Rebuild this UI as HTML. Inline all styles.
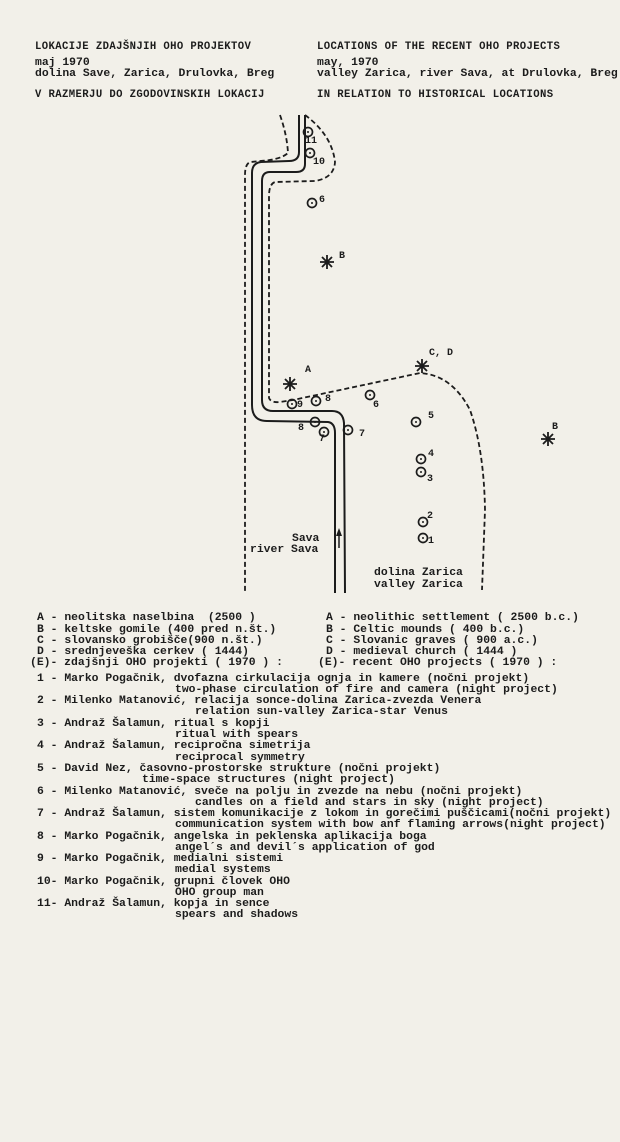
<!DOCTYPE html>
<html><head><meta charset="utf-8">
<style>
html,body{margin:0;padding:0;}
body{width:620px;height:1142px;background:#f2f0e9;position:relative;overflow:hidden;
font-family:"Liberation Mono","DejaVu Sans Mono",monospace;color:#1c1c1c;}
.t{position:absolute;white-space:pre;font-size:11.4px;line-height:12px;font-weight:bold;letter-spacing:0;}
.h{font-size:10.6px;font-weight:bold;letter-spacing:0.4px;}
svg{position:absolute;left:0;top:0;}
</style></head><body>

<div class="t h" style="left:35px;top:41px">LOKACIJE ZDAJŠNJIH OHO PROJEKTOV</div>
<div class="t" style="left:35px;top:57px">maj 1970</div>
<div class="t" style="left:35px;top:68px">dolina Save, Zarica, Drulovka, Breg</div>
<div class="t h" style="left:35px;top:89px">V RAZMERJU DO ZGODOVINSKIH LOKACIJ</div>
<div class="t h" style="left:317px;top:41px">LOCATIONS OF THE RECENT OHO PROJECTS</div>
<div class="t" style="left:317px;top:57px">may, 1970</div>
<div class="t" style="left:317px;top:68px">valley Zarica, river Sava, at Drulovka, Breg</div>
<div class="t h" style="left:317px;top:89px">IN RELATION TO HISTORICAL LOCATIONS</div>

<svg width="620" height="1142" viewBox="0 0 620 1142">
<g fill="none" stroke="#1c1c1c" stroke-width="2">
<path d="M299,115 L299,152 Q299,161 289,161 L261,162 Q252,163 252,173 L252,405 Q252,421 267,421 L328,422 Q335,423 335,433 L335,593"/>
<path d="M305,115 L305,164 Q305,172 296,172 L270,172 Q262,172 262,181 L262,400 Q262,411 273,411 L332,411 Q343,411 344,423 L345,593"/>
</g>
<g fill="none" stroke="#1c1c1c" stroke-width="1.8" stroke-dasharray="5,3">
<path d="M280,115 Q287,135 288,153 Q280,160 260,161 L251,162 Q245,163 245,175 L245,592"/>
<path d="M305,115 Q332,135 335,162 Q334,178 315,181 L275,182 Q269,184 269,196 L269,398 Q271,403 280,402 L293,400 L420,373 Q452,375 470,410 Q484,450 485,510 L482,590"/>
</g>
<g fill="none" stroke="#1c1c1c" stroke-width="1.7">
<circle cx="308" cy="132" r="4.5"/><circle cx="310" cy="153" r="4.5"/>
<circle cx="312" cy="203" r="4.5"/>
<circle cx="292" cy="404" r="4.5"/><circle cx="316" cy="401" r="4.5"/>
<circle cx="370" cy="395" r="4.5"/><circle cx="315" cy="422" r="4.5"/>
<circle cx="324" cy="432" r="4.5"/><circle cx="348" cy="430" r="4.5"/>
<circle cx="416" cy="422" r="4.5"/><circle cx="421" cy="459" r="4.5"/>
<circle cx="421" cy="472" r="4.5"/><circle cx="423" cy="522" r="4.5"/>
<circle cx="423" cy="538" r="4.5"/>
</g>
<g fill="#1c1c1c">
<circle cx="308" cy="132" r="1"/><circle cx="310" cy="153" r="1"/><circle cx="312" cy="203" r="1"/>
<circle cx="292" cy="404" r="1"/><circle cx="316" cy="401" r="1"/><circle cx="370" cy="395" r="1"/>
<circle cx="315" cy="422" r="1"/><circle cx="324" cy="432" r="1"/><circle cx="348" cy="430" r="1"/>
<circle cx="416" cy="422" r="1"/><circle cx="421" cy="459" r="1"/><circle cx="421" cy="472" r="1"/>
<circle cx="423" cy="522" r="1"/><circle cx="423" cy="538" r="1"/>
</g>
<g stroke="#1c1c1c" stroke-width="1.8">
<g transform="translate(327,262)"><path d="M-7,0H7M0,-7V7M-5,-5L5,5M-5,5L5,-5"/></g>
<g transform="translate(290,384)"><path d="M-7,0H7M0,-7V7M-5,-5L5,5M-5,5L5,-5"/></g>
<g transform="translate(422,366)"><path d="M-7,0H7M0,-7V7M-5,-5L5,5M-5,5L5,-5"/></g>
<g transform="translate(548,439)"><path d="M-7,0H7M0,-7V7M-5,-5L5,5M-5,5L5,-5"/></g>
<path d="M339,548V532" stroke-width="1.5"/>
</g>
<path d="M339,528 L336,536 L342,536Z" fill="#1c1c1c"/>
<g font-family="Liberation Mono, monospace" font-size="10" font-weight="bold" fill="#1c1c1c">
<text x="305" y="143">11</text><text x="313" y="164">10</text><text x="319" y="202">6</text>
<text x="339" y="258">B</text><text x="305" y="372">A</text><text x="429" y="355">C, D</text>
<text x="297" y="407">9</text><text x="325" y="401">8</text><text x="373" y="407">6</text>
<text x="298" y="430">8</text><text x="319" y="441">7</text><text x="359" y="436">7</text>
<text x="428" y="418">5</text><text x="428" y="456">4</text><text x="427" y="481">3</text>
<text x="427" y="518">2</text><text x="428" y="543">1</text><text x="552" y="429">B</text>
</g>
</svg>
<div class="t" style="left:292px;top:533px">Sava</div>
<div class="t" style="left:250px;top:544px">river Sava</div>
<div class="t" style="left:374px;top:567px">dolina Zarica</div>
<div class="t" style="left:374px;top:579px">valley Zarica</div>

<div class="t" style="left:37px;top:612px">A - neolitska naselbina  (2500 )</div>
<div class="t" style="left:37px;top:624px">B - keltske gomile (400 pred n.št.)</div>
<div class="t" style="left:37px;top:635px">C - slovansko grobišče(900 n.št.)</div>
<div class="t" style="left:37px;top:646px">D - srednjeveška cerkev ( 1444)</div>
<div class="t" style="left:30px;top:657px">(E)- zdajšnji OHO projekti ( 1970 ) :</div>
<div class="t" style="left:326px;top:612px">A - neolithic settlement ( 2500 b.c.)</div>
<div class="t" style="left:326px;top:624px">B - Celtic mounds ( 400 b.c.)</div>
<div class="t" style="left:326px;top:635px">C - Slovanic graves ( 900 a.c.)</div>
<div class="t" style="left:326px;top:646px">D - medieval church ( 1444 )</div>
<div class="t" style="left:318px;top:657px">(E)- recent OHO projects ( 1970 ) :</div>

<div class="t" style="left:37px;top:673px">1 - Marko Pogačnik, dvofazna cirkulacija ognja in kamere (nočni projekt)</div>
<div class="t" style="left:175px;top:684px">two-phase circulation of fire and camera (night project)</div>
<div class="t" style="left:37px;top:695px">2 - Milenko Matanović, relacija sonce-dolina Zarica-zvezda Venera</div>
<div class="t" style="left:195px;top:706px">relation sun-valley Zarica-star Venus</div>
<div class="t" style="left:37px;top:718px">3 - Andraž Šalamun, ritual s kopji</div>
<div class="t" style="left:175px;top:729px">ritual with spears</div>
<div class="t" style="left:37px;top:740px">4 - Andraž Šalamun, recipročna simetrija</div>
<div class="t" style="left:175px;top:752px">reciprocal symmetry</div>
<div class="t" style="left:37px;top:763px">5 - David Nez, časovno-prostorske strukture (nočni projekt)</div>
<div class="t" style="left:142px;top:774px">time-space structures (night project)</div>
<div class="t" style="left:37px;top:786px">6 - Milenko Matanović, sveče na polju in zvezde na nebu (nočni projekt)</div>
<div class="t" style="left:195px;top:797px">candles on a field and stars in sky (night project)</div>
<div class="t" style="left:37px;top:808px">7 - Andraž Šalamun, sistem komunikacije z lokom in gorečimi puščicami(nočni projekt)</div>
<div class="t" style="left:175px;top:819px">communication system with bow anf flaming arrows(night project)</div>
<div class="t" style="left:37px;top:831px">8 - Marko Pogačnik, angelska in peklenska aplikacija boga</div>
<div class="t" style="left:175px;top:842px">angel´s and devil´s application of god</div>
<div class="t" style="left:37px;top:853px">9 - Marko Pogačnik, medialni sistemi</div>
<div class="t" style="left:175px;top:864px">medial systems</div>
<div class="t" style="left:37px;top:876px">10- Marko Pogačnik, grupni človek OHO</div>
<div class="t" style="left:175px;top:887px">OHO group man</div>
<div class="t" style="left:37px;top:898px">11- Andraž Šalamun, kopja in sence</div>
<div class="t" style="left:175px;top:909px">spears and shadows</div>
</body></html>
